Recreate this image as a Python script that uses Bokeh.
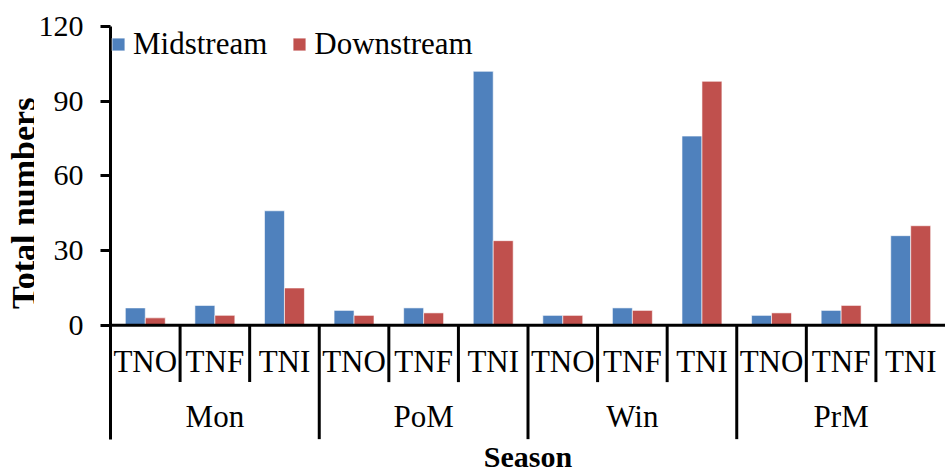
import math
from bokeh.plotting import figure
from bokeh.layouts import row
from bokeh.models import (FactorRange, Range1d, FixedTicker, Span, Legend,
                          LegendItem, ColumnDataSource)
from bokeh.transform import dodge
from bokeh.core.properties import value
from bokeh.embed import file_html
from bokeh.resources import INLINE

seasons = ["Mon", "PoM", "Win", "PrM"]
types = ["TNO", "TNF", "TNI"]
midstream = [7, 8, 46, 6, 7, 102, 4, 7, 76, 4, 6, 36]
downstream = [3, 4, 15, 4, 5, 34, 4, 6, 98, 5, 8, 40]
y_ticks = [0, 30, 60, 90, 120]

factors = [(s, t) for s in seasons for t in types]
FONT = "Liberation Serif"
TOTAL_H = 475
TITLE_W = 34

# narrow strip holding the vertical y-axis title
t = figure(width=TITLE_W, height=TOTAL_H, x_range=Range1d(0, TITLE_W),
           y_range=Range1d(0, TOTAL_H), output_backend="svg",
           toolbar_location=None, x_axis_location=None,
           y_axis_location=None, title=None, min_border=0)
t.outline_line_color = None
t.grid.visible = False
t.text(x=[23], y=[TOTAL_H - 187], text=["Total numbers"], angle=math.pi / 2,
       text_align="center", text_baseline="middle", text_font=value(FONT),
       text_font_size=value("34px"), text_font_style="bold",
       text_color="black")

p = figure(width=945 - TITLE_W, height=TOTAL_H,
           x_range=FactorRange(factors=factors, range_padding=0,
                               factor_padding=0, group_padding=0),
           y_range=Range1d(-60.3, 120),
           output_backend="svg", toolbar_location=None,
           x_axis_location=None, title=None,
           min_border_left=110 - TITLE_W, min_border_right=0,
           min_border_top=26, min_border_bottom=0)
p.outline_line_color = None
p.grid.visible = False
p.background_fill_color = "white"

src = ColumnDataSource(dict(x=factors, mid=midstream, down=downstream))
r1 = p.vbar(x=dodge("x", -0.1435, range=p.x_range), top="mid", width=0.287,
            source=src, fill_color="#4F81BD", line_color="white",
            line_alpha=0.6, line_width=1)
r2 = p.vbar(x=dodge("x", 0.1435, range=p.x_range), top="down", width=0.287,
            source=src, fill_color="#C0504D", line_color="white",
            line_alpha=0.6, line_width=1)

# x axis baseline
p.add_layout(Span(location=0, dimension="width", line_color="black",
                  line_width=3))

# category separators
cat_sep = [(s, tp, -0.5) for s in seasons for tp in types[1:]]
p.segment(x0=cat_sep, y0=[0] * len(cat_sep), x1=cat_sep,
          y1=[-22.8] * len(cat_sep), line_color="black", line_width=3)
grp_sep = [(s, types[0], -0.5) for s in seasons[1:]]
p.segment(x0=grp_sep, y0=[0] * len(grp_sep), x1=grp_sep,
          y1=[-45.7] * len(grp_sep), line_color="black", line_width=3)

# category labels
p.text(x=factors, y=[0] * len(factors), text=[tp for s in seasons for tp in types],
       y_offset=36, text_align="center", text_baseline="alphabetic",
       text_font=value(FONT), text_font_size=value("31px"), text_color="black")
# season labels
p.text(x=seasons, y=[0] * len(seasons), text=seasons,
       y_offset=91, text_align="center", text_baseline="alphabetic",
       text_font=value(FONT), text_font_size=value("31px"), text_color="black")
# x axis title
p.text(x=[len(factors) / 2], y=[0], text=["Season"],
       y_offset=131, text_align="center", text_baseline="alphabetic",
       text_font=value(FONT), text_font_size=value("30px"),
       text_font_style="bold", text_color="black")

# y axis
ya = p.yaxis[0]
ya.ticker = FixedTicker(ticks=y_ticks)
ya.bounds = (-45.7, 120)
ya.axis_line_width = 3
ya.axis_line_color = "black"
ya.major_tick_line_width = 3
ya.major_tick_line_color = "black"
ya.major_tick_out = 10
ya.major_tick_in = 0
ya.minor_tick_out = 0
ya.minor_tick_in = 0
ya.major_label_text_font = FONT
ya.major_label_text_font_size = "30px"
ya.major_label_text_color = "black"
ya.major_label_standoff = 17

legend = Legend(items=[LegendItem(label="Midstream", renderers=[r1]),
                       LegendItem(label="Downstream", renderers=[r2])],
                location="top_left", orientation="horizontal",
                glyph_width=16, glyph_height=16, label_standoff=7,
                spacing=24, padding=0, margin=0,
                label_text_font=FONT, label_text_font_size="31px",
                label_text_color="black",
                border_line_color=None, background_fill_alpha=0)
p.add_layout(legend)

layout = row(t, p, spacing=0)
open("out.html", "w").write(file_html(layout, INLINE))
